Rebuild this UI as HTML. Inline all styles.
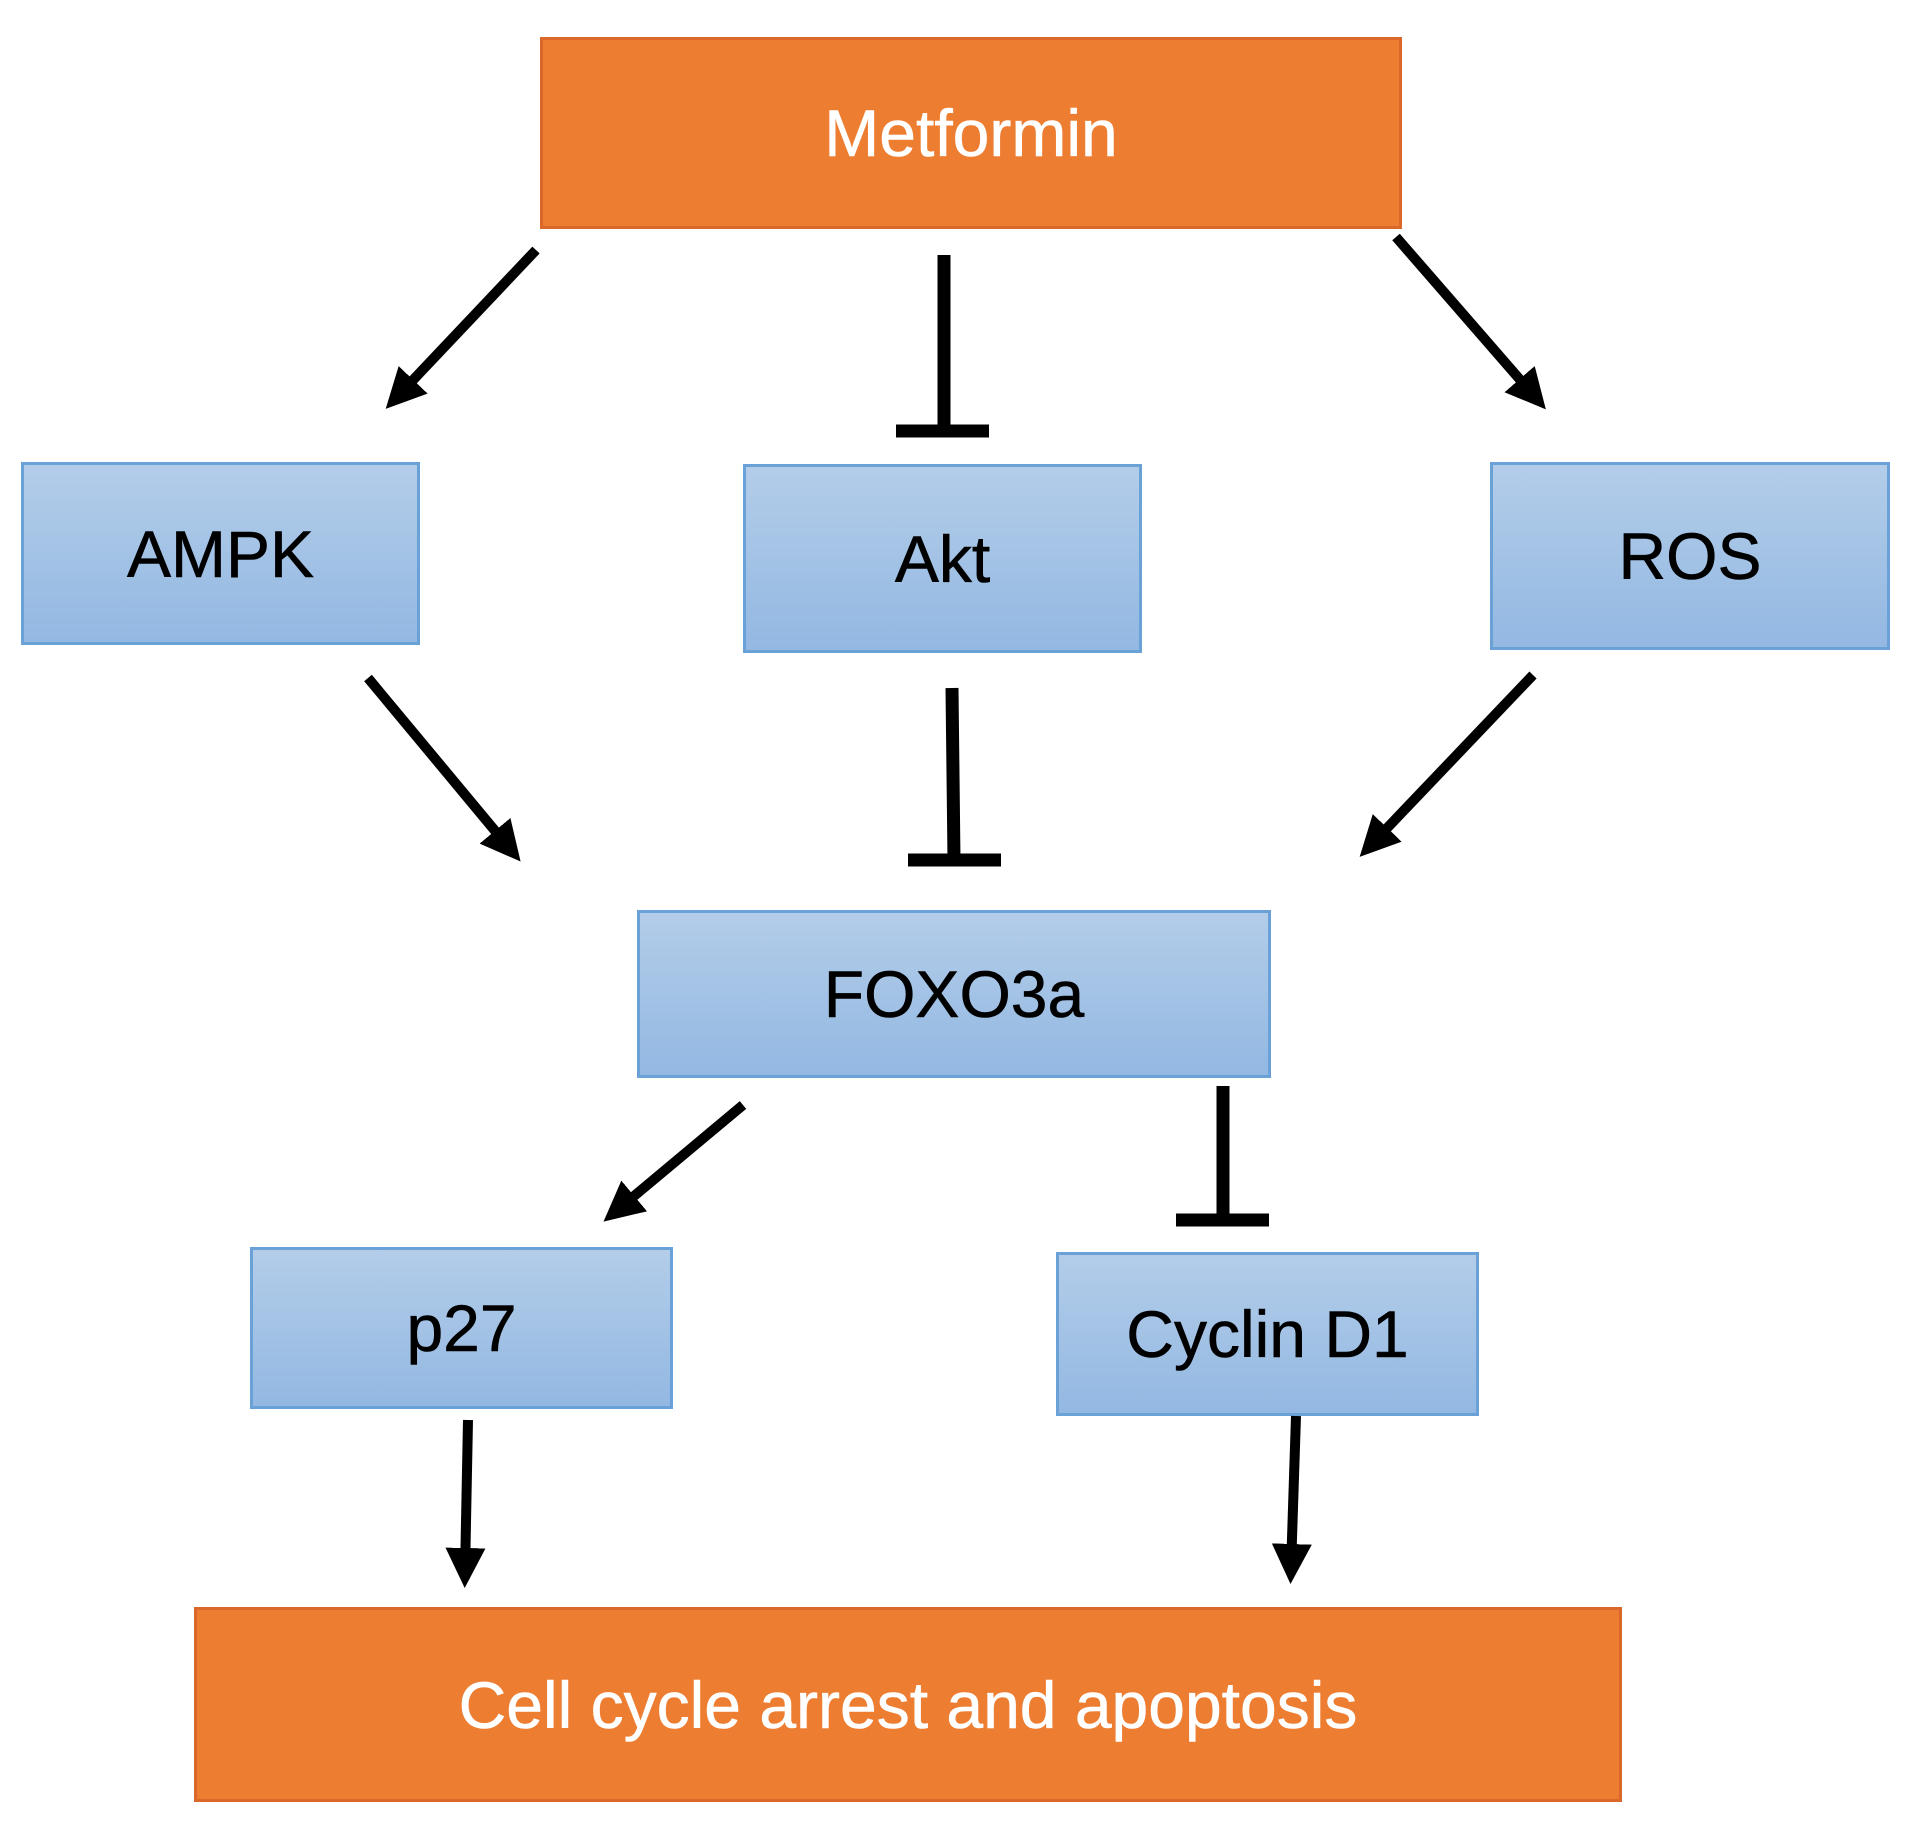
<!DOCTYPE html>
<html><head><meta charset="utf-8"><style>
html,body{margin:0;padding:0;background:#fff;width:1912px;height:1824px;overflow:hidden}
.b{position:absolute;box-sizing:border-box;display:flex;align-items:center;justify-content:center;font-family:"Liberation Sans",sans-serif;font-size:66px;color:#000;-webkit-text-stroke:0.6px currentColor}
.blue{background:linear-gradient(#b3cde9,#93b8e2);border:3px solid #6aa2d8}
.or{background:#ed7d31;border:3px solid #d9682a;color:#fff}
svg{position:absolute;left:0;top:0}
</style></head><body>
<div class="b or" style="left:540px;top:37px;width:862px;height:192px">Metformin</div>
<div class="b blue" style="left:21px;top:462px;width:399px;height:183px">AMPK</div>
<div class="b blue" style="left:743px;top:464px;width:399px;height:189px">Akt</div>
<div class="b blue" style="left:1490px;top:462px;width:400px;height:188px">ROS</div>
<div class="b blue" style="left:637px;top:910px;width:634px;height:168px">FOXO3a</div>
<div class="b blue" style="left:250px;top:1247px;width:423px;height:162px">p27</div>
<div class="b blue" style="left:1056px;top:1252px;width:423px;height:164px">Cyclin D1</div>
<div class="b or" style="left:194px;top:1607px;width:1428px;height:195px">Cell cycle arrest and apoptosis</div>
<svg width="1912" height="1824">
<defs><marker id="a" markerWidth="4" markerHeight="4" refX="2.5" refY="2" orient="auto" markerUnits="strokeWidth"><path d="M0,0 L4,2 L0,4 Z" fill="#000"/></marker></defs>
<g stroke="#000" stroke-width="10" fill="none">
<line x1="536" y1="250" x2="396" y2="398" marker-end="url(#a)"/>
<line x1="1396" y1="237" x2="1536" y2="398" marker-end="url(#a)"/>
<line x1="368" y1="678" x2="511" y2="850" marker-end="url(#a)"/>
<line x1="1533" y1="675" x2="1370" y2="846" marker-end="url(#a)"/>
<line x1="743" y1="1105" x2="615" y2="1212" marker-end="url(#a)"/>
<line x1="468" y1="1420" x2="465" y2="1573" marker-end="url(#a)"/>
<line x1="1296" y1="1416" x2="1291" y2="1569" marker-end="url(#a)"/>
</g>
<g stroke="#000" stroke-width="13" fill="none">
<line x1="944" y1="255" x2="944" y2="431"/>
<line x1="896" y1="431" x2="989" y2="431"/>
<line x1="952" y1="688" x2="954" y2="860"/>
<line x1="908" y1="860" x2="1001" y2="860"/>
<line x1="1223" y1="1086" x2="1223" y2="1220"/>
<line x1="1176" y1="1220" x2="1269" y2="1220"/>
</g>
</svg>
</body></html>
